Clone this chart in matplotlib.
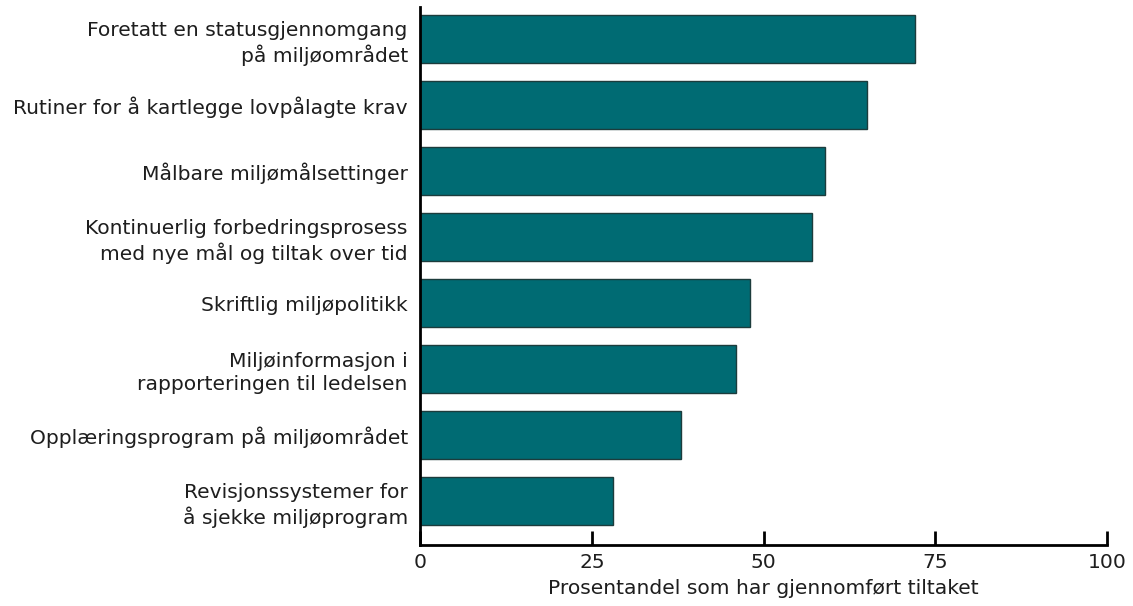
import matplotlib
matplotlib.use("Agg")
import matplotlib.pyplot as plt
import numpy as np

# Data (top to bottom)
labels = [
    "Foretatt en statusgjennomgang\npå miljøområdet",
    "Rutiner for å kartlegge lovpålagte krav",
    "Målbare miljømålsettinger",
    "Kontinuerlig forbedringsprosess\nmed nye mål og tiltak over tid",
    "Skriftlig miljøpolitikk",
    "Miljøinformasjon i\nrapporteringen til ledelsen",
    "Opplæringsprogram på miljøområdet",
    "Revisjonssystemer for\nå sjekke miljøprogram",
]
values = [72, 65, 59, 57, 48, 46, 38, 28]
xticks = [0, 25, 50, 75, 100]

plt.rcParams["font.family"] = ["DejaVu Sans"]
txt = "#1e1e1e"
fs = 14.6

fig = plt.figure(figsize=(11.33, 6.06), dpi=100)
ax = fig.add_axes([0.371, 0.1007, 0.606, 0.8873])

ypos = np.arange(len(values))[::-1]
ax.barh(ypos, values, height=0.727, color="#006b73", edgecolor="#1c3c3c", linewidth=1.0)

ax.set_xlim(0, 100)
ax.set_ylim(-0.667, 7.485)
ax.set_yticks(ypos)
ax.set_yticklabels(labels, fontsize=fs, linespacing=1.25, color=txt)
ax.tick_params(axis="y", length=0, pad=9)
ax.set_xticks(xticks)
ax.set_xticklabels([str(v) for v in xticks], fontsize=fs, color=txt)
ax.tick_params(axis="x", direction="in", length=10, width=2, pad=6)
ax.set_xlabel("Prosentandel som har gjennomført tiltaket", fontsize=fs, labelpad=5, color=txt)

for s in ["top", "right"]:
    ax.spines[s].set_visible(False)
ax.spines["left"].set_linewidth(2)
ax.spines["bottom"].set_linewidth(2)

fig.savefig("out.png", dpi=100)
